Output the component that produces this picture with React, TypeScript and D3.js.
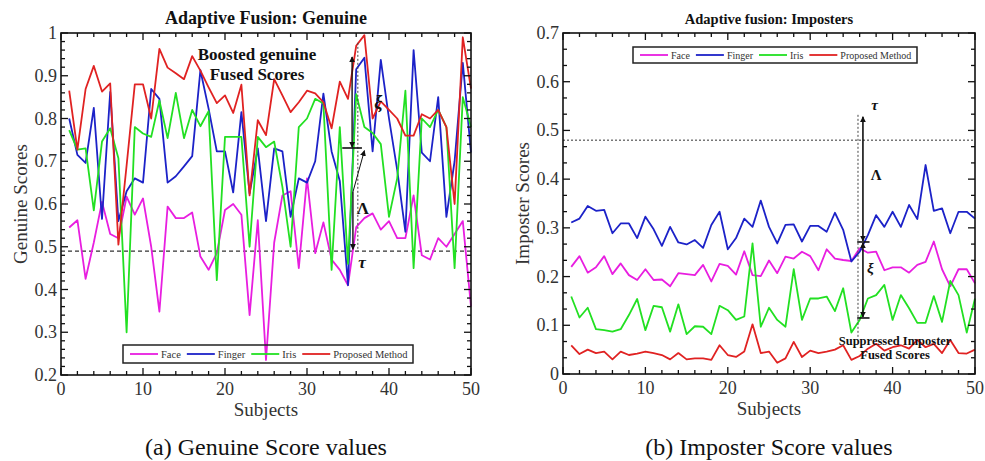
import { useEffect, useRef } from "react";
import * as d3 from "d3";

// genuine scores per subject (1..50)
const genuineFace = [
  0.545, 0.562, 0.425, 0.51, 0.605, 0.53, 0.52, 0.617, 0.575, 0.613,
  0.5, 0.348, 0.594, 0.567, 0.567, 0.58, 0.477, 0.446, 0.485, 0.586,
  0.6, 0.575, 0.34, 0.562, 0.235, 0.51, 0.62, 0.63, 0.45, 0.66,
  0.485, 0.557, 0.47, 0.446, 0.41, 0.546, 0.567, 0.578, 0.54, 0.56,
  0.52, 0.52, 0.62, 0.48, 0.47, 0.52, 0.5, 0.53, 0.56, 0.36,
];
const genuineFinger = [
  0.8, 0.715, 0.696, 0.825, 0.565, 0.862, 0.56, 0.63, 0.66, 0.65,
  0.869, 0.846, 0.65, 0.665, 0.688, 0.712, 0.913, 0.823, 0.723, 0.723,
  0.627, 0.815, 0.625, 0.73, 0.56, 0.73, 0.723, 0.57, 0.66, 0.65,
  0.7, 0.858, 0.723, 0.654, 0.41, 0.915, 0.942, 0.723, 0.937, 0.8,
  0.68, 0.535, 0.96, 0.72, 0.7, 0.85, 0.57, 0.7, 0.93, 0.72,
];
const genuineIris = [
  0.773, 0.727, 0.73, 0.585, 0.746, 0.777, 0.707, 0.3, 0.78, 0.765,
  0.757, 0.842, 0.754, 0.86, 0.754, 0.82, 0.782, 0.817, 0.422, 0.757,
  0.757, 0.757, 0.5, 0.757, 0.733, 0.746, 0.64, 0.5, 0.78, 0.8,
  0.846, 0.835, 0.446, 0.78, 0.46, 0.857, 0.78, 0.766, 0.74, 0.57,
  0.66, 0.865, 0.45, 0.8, 0.78, 0.82, 0.78, 0.45, 0.85, 0.78,
];
const genuineFused = [
  0.865, 0.727, 0.869, 0.923, 0.863, 0.882, 0.505, 0.69, 0.88, 0.88,
  0.8, 0.963, 0.919, 0.906, 0.892, 0.946, 0.912, 0.873, 0.836, 0.854,
  0.813, 0.879, 0.62, 0.796, 0.761, 0.892, 0.854, 0.815, 0.838, 0.865,
  0.859, 0.838, 0.777, 0.886, 0.846, 0.97, 0.995, 0.8, 0.84, 0.82,
  0.8, 0.76, 0.76, 0.81, 0.8, 0.82, 0.78, 0.6, 0.99, 0.87,
];

// imposter scores per subject (1..50)
const imposterFace = [
  0.22, 0.242, 0.208, 0.219, 0.242, 0.205, 0.227, 0.203, 0.193, 0.215,
  0.193, 0.194, 0.18, 0.207, 0.205, 0.203, 0.224, 0.19, 0.226, 0.222,
  0.204, 0.252, 0.203, 0.201, 0.233, 0.207, 0.241, 0.237, 0.251, 0.242,
  0.213, 0.256, 0.237, 0.234, 0.232, 0.258, 0.249, 0.251, 0.213, 0.219,
  0.219, 0.208, 0.224, 0.23, 0.272, 0.215, 0.18, 0.215, 0.215, 0.186,
];
const imposterFinger = [
  0.311, 0.319, 0.345, 0.335, 0.337, 0.289, 0.309, 0.309, 0.279, 0.323,
  0.297, 0.263, 0.302, 0.27, 0.266, 0.275, 0.259, 0.306, 0.333, 0.256,
  0.279, 0.319, 0.302, 0.356, 0.302, 0.268, 0.306, 0.307, 0.272, 0.304,
  0.304, 0.292, 0.331, 0.296, 0.231, 0.251, 0.285, 0.326, 0.302, 0.333,
  0.302, 0.347, 0.318, 0.429, 0.335, 0.34, 0.289, 0.333, 0.333, 0.319,
];
const imposterIris = [
  0.159, 0.116, 0.136, 0.092, 0.09, 0.087, 0.092, 0.121, 0.154, 0.09,
  0.14, 0.137, 0.087, 0.143, 0.082, 0.098, 0.097, 0.082, 0.14, 0.131,
  0.111, 0.118, 0.268, 0.097, 0.136, 0.111, 0.097, 0.215, 0.111, 0.155,
  0.155, 0.159, 0.129, 0.176, 0.085, 0.111, 0.155, 0.162, 0.183, 0.111,
  0.162, 0.135, 0.105, 0.105, 0.16, 0.107, 0.191, 0.162, 0.085, 0.155,
];
const imposterFused = [
  0.059, 0.041, 0.05, 0.043, 0.046, 0.03, 0.046, 0.039, 0.042, 0.046,
  0.043, 0.039, 0.03, 0.043, 0.03, 0.032, 0.032, 0.029, 0.059, 0.039,
  0.035, 0.046, 0.102, 0.043, 0.046, 0.023, 0.032, 0.066, 0.035, 0.048,
  0.043, 0.046, 0.05, 0.059, 0.029, 0.037, 0.052, 0.062, 0.048, 0.055,
  0.059, 0.052, 0.07, 0.055, 0.062, 0.043, 0.07, 0.043, 0.042, 0.05,
];

const seriesNames = ["Face", "Finger", "Iris", "Proposed Method"];
const seriesColors = ["#e81ee0", "#1c22c8", "#22e022", "#e02222"];
const subjectTicks = [0, 10, 20, 30, 40, 50];
const genuineTicks = [0.2, 0.3, 0.4, 0.5, 0.6, 0.7, 0.8, 0.9, 1];
const imposterTicks = [0, 0.1, 0.2, 0.3, 0.4, 0.5, 0.6, 0.7];

const serif = "Liberation Serif, serif";

function drawPanel(svg, p) {
  const x = d3.scaleLinear().domain([0, 50]).range([p.left, p.right]);
  const y = d3.scaleLinear().domain([p.yTicks[0], p.yTicks[p.yTicks.length - 1]]).range([p.bottom, p.top]);
  const g = svg.append("g");

  // threshold line
  g.append("line")
    .attr("x1", p.left).attr("x2", p.right)
    .attr("y1", y(p.tau)).attr("y2", y(p.tau))
    .attr("stroke", "#333").attr("stroke-width", p.tauWidth)
    .attr("stroke-dasharray", p.tauDash);

  const line = d3.line().x((d, i) => x(i + 1)).y(d => y(d));
  p.series.forEach((s, k) => {
    g.append("path")
      .attr("d", line(s))
      .attr("fill", "none")
      .attr("stroke", seriesColors[k])
      .attr("stroke-width", 1.8)
      .attr("stroke-linejoin", "round");
  });

  // frame + inward ticks on every side
  g.append("rect")
    .attr("x", p.left).attr("y", p.top)
    .attr("width", p.right - p.left).attr("height", p.bottom - p.top)
    .attr("fill", "none").attr("stroke", "#111").attr("stroke-width", 1.6);

  const xMinor = d3.range(0, 50.001, 2);
  const [y0, y1] = y.domain();
  const yMinor = d3.range(0, Math.round((y1 - y0) / p.yMinorStep) + 1).map(i => y0 + i * p.yMinorStep);
  const tk = g.append("g").attr("stroke", "#111").attr("stroke-width", 1.3);
  xMinor.forEach(v => {
    const len = subjectTicks.includes(v) ? 7 : 4;
    tk.append("line").attr("x1", x(v)).attr("x2", x(v)).attr("y1", p.bottom).attr("y2", p.bottom - len);
    tk.append("line").attr("x1", x(v)).attr("x2", x(v)).attr("y1", p.top).attr("y2", p.top + len);
  });
  yMinor.forEach(v => {
    const major = p.yTicks.some(t => Math.abs(t - v) < 1e-6);
    const len = major ? 7 : 4;
    tk.append("line").attr("x1", p.left).attr("x2", p.left + len).attr("y1", y(v)).attr("y2", y(v));
    tk.append("line").attr("x1", p.right).attr("x2", p.right - len).attr("y1", y(v)).attr("y2", y(v));
  });

  const fmt = v => String(+v.toFixed(1));
  g.selectAll("text.yt").data(p.yTicks).join("text")
    .attr("x", p.left - 4).attr("y", d => y(d))
    .attr("text-anchor", "end").attr("dominant-baseline", "central")
    .attr("font-family", serif).attr("font-size", 18).attr("fill", "#333")
    .text(fmt);
  g.selectAll("text.xt").data(subjectTicks).join("text")
    .attr("x", d => x(d)).attr("y", p.bottom + 14)
    .attr("text-anchor", "middle").attr("dominant-baseline", "central")
    .attr("font-family", serif).attr("font-size", 18).attr("fill", "#333")
    .text(d => d);

  const cx = (p.left + p.right) / 2;
  g.append("text").attr("x", cx).attr("y", p.bottom + 34)
    .attr("text-anchor", "middle").attr("dominant-baseline", "central")
    .attr("font-family", serif).attr("font-size", 19).attr("fill", "#333")
    .text("Subjects");
  g.append("text")
    .attr("transform", `translate(${p.yTitleX},${(p.top + p.bottom) / 2}) rotate(-90)`)
    .attr("text-anchor", "middle").attr("dominant-baseline", "central")
    .attr("font-family", serif).attr("font-size", 19).attr("fill", "#333")
    .text(p.yTitle);
  g.append("text").attr("x", cx).attr("y", p.top - 9)
    .attr("text-anchor", "middle")
    .attr("font-family", serif).attr("font-size", p.titleSize).attr("font-weight", "bold").attr("fill", "#111")
    .text(p.title);
  g.append("text").attr("x", cx).attr("y", 455)
    .attr("text-anchor", "middle")
    .attr("font-family", serif).attr("font-size", 24).attr("fill", "#111")
    .text(p.caption);

  // legend
  const lg = g.append("g").attr("transform", `translate(${p.legend.x},${p.legend.y})`);
  lg.append("rect").attr("width", p.legend.w).attr("height", p.legend.h)
    .attr("fill", "none").attr("stroke", "#222").attr("stroke-width", 1.5);
  let lx = 7;
  seriesNames.forEach((name, k) => {
    lg.append("line").attr("x1", lx).attr("x2", lx + 28)
      .attr("y1", p.legend.h / 2).attr("y2", p.legend.h / 2)
      .attr("stroke", seriesColors[k]).attr("stroke-width", 1.8);
    const t = lg.append("text").attr("x", lx + 31).attr("y", p.legend.h / 2)
      .attr("dominant-baseline", "central")
      .attr("font-family", serif).attr("font-size", p.legend.fs).attr("fill", "#333")
      .text(name);
    lx += 31 + t.node().getComputedTextLength() + 6;
  });

  p.annotate(g, x, y);
}

function arrow(g, x1, y1, x2, y2, start, end, width = 1.4) {
  const l = g.append("line").attr("x1", x1).attr("y1", y1).attr("x2", x2).attr("y2", y2)
    .attr("stroke", "#111").attr("stroke-width", width);
  if (start) l.attr("marker-start", "url(#ah)");
  if (end) l.attr("marker-end", "url(#ah)");
}

function label(g, px, py, s, size, italic = false) {
  g.append("text").attr("x", px).attr("y", py)
    .attr("text-anchor", "middle").attr("dominant-baseline", "central")
    .attr("font-family", serif).attr("font-size", size).attr("font-weight", "bold")
    .attr("font-style", italic ? "italic" : "normal").attr("fill", "#111")
    .text(s);
}

export default function App() {
  const ref = useRef(null);

  useEffect(() => {
    const svg = d3.select(ref.current);
    svg.selectAll("*").remove();

    svg.append("defs").append("marker")
      .attr("id", "ah").attr("viewBox", "0 0 10 10")
      .attr("refX", 9).attr("refY", 5)
      .attr("markerWidth", 6).attr("markerHeight", 6)
      .attr("markerUnits", "userSpaceOnUse")
      .attr("orient", "auto-start-reverse")
      .append("path").attr("d", "M0,0 L10,5 L0,10 z").attr("fill", "#111");

    drawPanel(svg, {
      left: 61, right: 471, top: 33, bottom: 375,
      yTicks: genuineTicks, yMinorStep: 0.02,
      tau: 0.49, tauDash: "4,3", tauWidth: 1.2,
      series: [genuineFace, genuineFinger, genuineIris, genuineFused],
      title: "Adaptive Fusion: Genuine", titleSize: 18,
      yTitle: "Genuine Scores", yTitleX: 20,
      caption: "(a) Genuine Score values",
      legend: { x: 123, y: 345, w: 290, h: 18, fs: 10.5 },
      annotate: (g, x, y) => {
        g.append("line").attr("x1", x(36.2)).attr("x2", x(36.2)).attr("y1", y(0.977)).attr("y2", y(0.49))
          .attr("stroke", "#444").attr("stroke-width", 1).attr("stroke-dasharray", "2,2");
        arrow(g, x(35.5), y(0.944), x(35.5), y(0.733), true, true);
        g.append("line").attr("x1", x(34.3)).attr("x2", x(36.7)).attr("y1", y(0.731)).attr("y2", y(0.731))
          .attr("stroke", "#111").attr("stroke-width", 1.6);
        arrow(g, x(35.6), y(0.628), x(35.6), y(0.494), false, true);
        arrow(g, x(35.6), y(0.628), x(37.0), y(0.725), false, true, 1);
        label(g, x(38.7), y(0.839), "ξ", 18, true);
        label(g, x(36.8), y(0.59), "Λ", 17);
        label(g, x(36.7), y(0.462), "τ", 17, true);
        label(g, x(23.9), y(0.949), "Boosted genuine", 17);
        label(g, x(23.9), y(0.904), "Fused Scores", 17);
      },
    });

    drawPanel(svg, {
      left: 563, right: 975, top: 33, bottom: 374,
      yTicks: imposterTicks, yMinorStep: 0.1 / 3,
      tau: 0.48, tauDash: "2,2", tauWidth: 1,
      series: [imposterFace, imposterFinger, imposterIris, imposterFused],
      title: "Adaptive fusion: Imposters", titleSize: 14.5,
      yTitle: "Imposter Scores", yTitleX: 522,
      caption: "(b) Imposter Score values",
      legend: { x: 633, y: 47, w: 284, h: 16, fs: 10 },
      annotate: (g, x, y) => {
        g.append("line").attr("x1", x(35.8)).attr("x2", x(35.8)).attr("y1", y(0.532)).attr("y2", y(0.074))
          .attr("stroke", "#444").attr("stroke-width", 1).attr("stroke-dasharray", "2,2");
        arrow(g, x(36.4), y(0.528), x(36.4), y(0.273), true, true, 1.6);
        arrow(g, x(36.4), y(0.269), x(36.4), y(0.117), true, true, 1.6);
        [0.271, 0.115].forEach(v => {
          g.append("line").attr("x1", x(35.7)).attr("x2", x(37.2)).attr("y1", y(v)).attr("y2", y(v))
            .attr("stroke", "#111").attr("stroke-width", 1.6);
        });
        label(g, x(37.8), y(0.552), "τ", 15, true);
        label(g, x(38), y(0.409), "Λ", 15);
        label(g, x(37.3), y(0.218), "ξ", 15, true);
        label(g, x(40.3), y(0.068), "Suppressed Imposter", 12.5);
        label(g, x(40.3), y(0.039), "Fused Scores", 12.5);
      },
    });
  }, []);

  return (
    <svg
      ref={ref}
      width={985}
      height={461}
      style={{ position: "absolute", left: 0, top: 0, background: "#fff" }}
    />
  );
}
